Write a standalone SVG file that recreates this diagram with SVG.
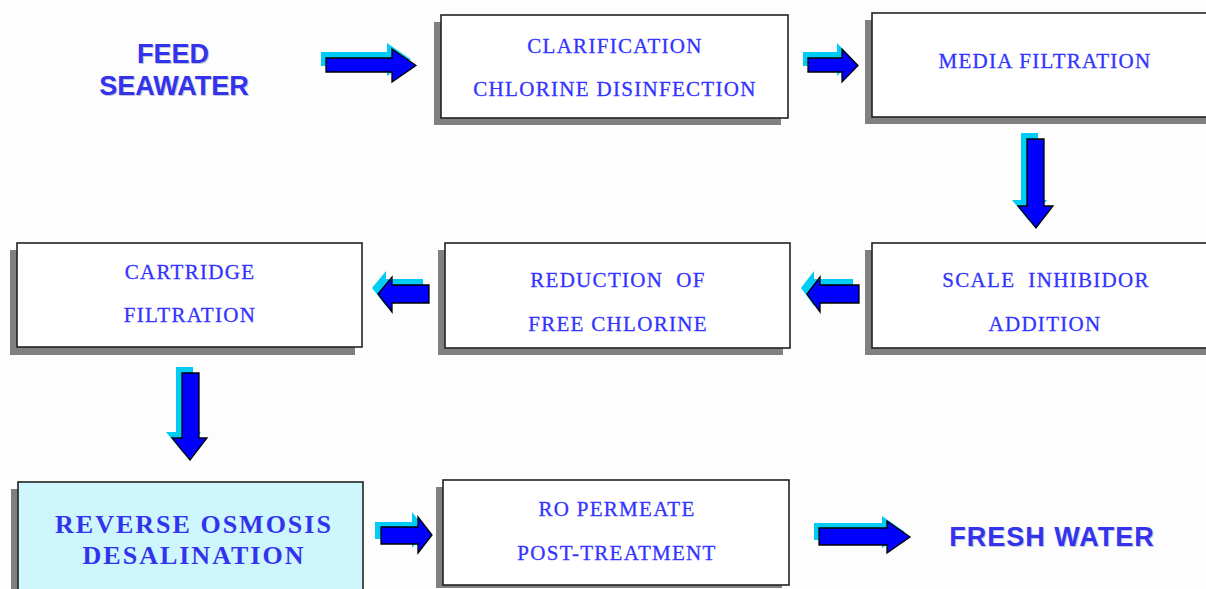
<svg xmlns="http://www.w3.org/2000/svg" width="1206" height="589" viewBox="0 0 1206 589">
<defs>
<style>
.bg{fill:#fdfdfd}
.shadow{fill:#808080}
.box{fill:#ffffff;stroke:#222222;stroke-width:1.6}
.ro{fill:#cdf6fd}
.t{font-family:"Liberation Serif","Times New Roman",serif;font-size:21px;letter-spacing:1.3px;fill:#3333ff;stroke:#3333ff;stroke-width:0.3;text-anchor:middle}
.tb{font-family:"Liberation Serif","Times New Roman",serif;font-size:26px;font-weight:bold;letter-spacing:2px;fill:#3333ee;text-anchor:middle}
.h{font-family:"Liberation Sans",Arial,sans-serif;font-size:27px;font-weight:bold;fill:#3333ee;text-anchor:middle}
.hs{font-family:"Liberation Sans",Arial,sans-serif;font-size:27px;font-weight:bold;fill:#c4c4dc;text-anchor:middle}
.ac{fill:#00ccf5}
.ab{fill:#0000ff;stroke:#000000;stroke-width:1.3;stroke-linejoin:miter}
</style>
</defs>
<rect class="bg" x="0" y="0" width="1206" height="589"/>

<g id="feed-seawater">
<text class="hs" x="174" y="64">FEED</text>
<text class="hs" x="175" y="96">SEAWATER</text>
<text class="h" x="173" y="63">FEED</text>
<text class="h" x="174" y="95">SEAWATER</text>
</g>

<g id="clarification">
<rect class="shadow" x="434" y="22" width="347" height="103"/>
<rect class="box" x="441" y="15" width="347" height="103"/>
<text class="t" x="615" y="53">CLARIFICATION</text>
<text class="t" x="615" y="96">CHLORINE DISINFECTION</text>
</g>

<g id="media-filtration">
<rect class="shadow" x="865" y="20" width="345" height="104"/>
<rect class="box" x="872" y="13" width="345" height="104"/>
<text class="t" x="1045" y="68">MEDIA FILTRATION</text>
</g>

<g id="scale-inhibitor">
<rect class="shadow" x="865" y="250" width="345" height="105"/>
<rect class="box" x="872" y="243" width="345" height="105"/>
<text class="t" x="1046" y="287" xml:space="preserve">SCALE  INHIBIDOR</text>
<text class="t" x="1045" y="331">ADDITION</text>
</g>

<g id="reduction">
<rect class="shadow" x="438" y="250" width="345" height="105"/>
<rect class="box" x="445" y="243" width="345" height="105"/>
<text class="t" x="618" y="287" xml:space="preserve">REDUCTION  OF</text>
<text class="t" x="618" y="331">FREE CHLORINE</text>
</g>

<g id="cartridge">
<rect class="shadow" x="10" y="250" width="345" height="105"/>
<rect class="box" x="17" y="243" width="345" height="104"/>
<text class="t" x="190" y="279">CARTRIDGE</text>
<text class="t" x="190" y="322">FILTRATION</text>
</g>

<g id="reverse-osmosis">
<rect class="shadow" x="11" y="489" width="345" height="120"/>
<rect class="box ro" x="18" y="482" width="345" height="120"/>
<text class="tb" x="194" y="533">REVERSE OSMOSIS</text>
<text class="tb" x="194" y="564">DESALINATION</text>
</g>

<g id="post-treatment">
<rect class="shadow" x="436" y="487" width="346" height="101"/>
<rect class="box" x="443" y="480" width="346" height="105"/>
<text class="t" x="617" y="516">RO PERMEATE</text>
<text class="t" x="617" y="560">POST-TREATMENT</text>
</g>

<g id="fresh-water">
<text class="hs" x="1053" y="547" letter-spacing="1">FRESH WATER</text>
<text class="h" x="1052" y="546" letter-spacing="1">FRESH WATER</text>
</g>

<g id="connectors">
<path class="ac" transform="translate(-5,-6)" d="M326,58 H392 V49 L416,65.5 L392,82 V72 H326 Z"/>
<path class="ab" d="M326,58 H392 V49 L416,65.5 L392,82 V72 H326 Z"/>

<path class="ac" transform="translate(-5,-6)" d="M808,58 H842 V49 L858,65.5 L842,82 V72 H808 Z"/>
<path class="ab" d="M808,58 H842 V49 L858,65.5 L842,82 V72 H808 Z"/>

<path class="ac" transform="translate(-6,-6)" d="M1027,139 V206 H1018 L1036,228 L1053,206 H1044 V139 Z"/>
<path class="ab" d="M1027,139 V206 H1018 L1036,228 L1053,206 H1044 V139 Z"/>

<path class="ac" transform="translate(-6,-6)" d="M859,285 H820 V277 L807,294 L820,312 V303 H859 Z"/>
<path class="ab" d="M859,285 H820 V277 L807,294 L820,312 V303 H859 Z"/>

<path class="ac" transform="translate(-6,-6)" d="M429,285 H392 V277 L378,294 L392,312 V303 H429 Z"/>
<path class="ab" d="M429,285 H392 V277 L378,294 L392,312 V303 H429 Z"/>

<path class="ac" transform="translate(-6,-6)" d="M182,373 V438 H172 L190,460 L207,438 H199 V373 Z"/>
<path class="ab" d="M182,373 V438 H172 L190,460 L207,438 H199 V373 Z"/>

<path class="ac" transform="translate(-6,-5)" d="M381,527 H418 V517 L432,535 L418,553 V544 H381 Z"/>
<path class="ab" d="M381,527 H418 V517 L432,535 L418,553 V544 H381 Z"/>

<path class="ac" transform="translate(-5,-5)" d="M819,528 H887 V521 L910,537 L887,553 V545 H819 Z"/>
<path class="ab" d="M819,528 H887 V521 L910,537 L887,553 V545 H819 Z"/>
</g>
</svg>
